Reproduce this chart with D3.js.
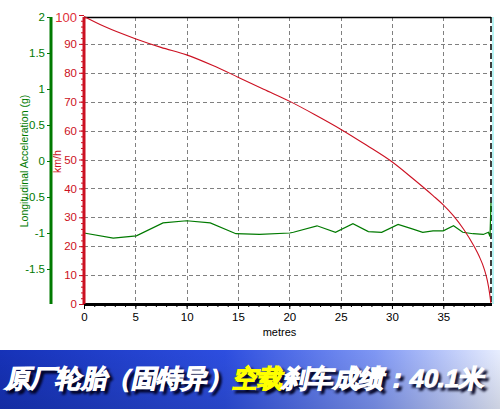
<!DOCTYPE html>
<html><head><meta charset="utf-8">
<script src="https://cdn.jsdelivr.net/npm/d3@7/dist/d3.min.js"></script>
<style>
html,body{margin:0;padding:0;background:#fff;overflow:hidden}
svg{display:block}
text{font-family:"Liberation Sans",Arial,sans-serif}
</style></head>
<body>
<script>
// ---- data ----
const speedData = [ // [metres, km/h]
  [0,99.5],[2,96],[5,91.8],[7.5,88.8],[10,86.2],[12.5,82.6],[15,78.5],[17.5,74.3],
  [20,70.2],[22.5,65.5],[25,60.5],[27.5,55],[30,49.2],[32,43.5],[34,37.5],[35,34.3],
  [36,30.5],[37,25.8],[38,20],[38.5,16.5],[39,12],[39.3,8],[39.5,4],[39.65,0]
];
const accelData = [ // [metres, g]
  [0,-1.0],[2.85,-1.07],[5.1,-1.04],[7.7,-0.86],[10,-0.83],[12.3,-0.86],[14.8,-1.01],
  [17.1,-1.02],[20.05,-1.0],[20.4,-0.99],[22.7,-0.90],[24.5,-0.99],[26.2,-0.87],
  [27.7,-0.98],[29.0,-0.99],[30.6,-0.88],[31.9,-0.94],[33.0,-0.99],[34.0,-0.97],
  [35.0,-0.97],[36.0,-0.90],[36.9,-0.99],[37.9,-1.01],[38.9,-1.02],[39.4,-0.99],
  [39.55,-1.05],[39.65,-0.58]
];
const xTicks = [0,5,10,15,20,25,30,35];
const speedTicks = [0,10,20,30,40,50,60,70,80,90,100];
const accelTicks = [-1.5,-1,-0.5,0,0.5,1,1.5,2];
const accelTitle = "Longitudinal Acceleration (g)";
const speedTitle = "km/h";
const xTitle = "metres";
const bannerParts = [["原厂轮胎（固特异）", "#ffffff"], ["空载", "#ffff00"], ["刹车成绩：40.1米", "#ffffff"]];

// ---- layout ----
const W = 500, H = 409;
const pL = 84, pR = 491, pT = 17, pB = 304;
const green = "#007a00", red = "#cc1122";
const fmt = d => String(d);

const svg = d3.select("body").append("svg").attr("width", W).attr("height", H);

const x = d3.scaleLinear().domain([0, 39.65]).range([pL, pR]);
const yS = d3.scaleLinear().domain([0, 100]).range([pB, 15]);
const yA = d3.scaleLinear().domain([-2, 2]).range([305, 17]);

// grid
const grid = svg.append("g").attr("stroke", "#808080").attr("stroke-dasharray", "4,3").attr("stroke-width", 1);
xTicks.filter(t => t > 0).forEach(t => {
  grid.append("line").attr("x1", Math.round(x(t)) + 0.5).attr("x2", Math.round(x(t)) + 0.5)
    .attr("y1", pT).attr("y2", pB);
});
speedTicks.filter(t => t > 0 && t < 100).forEach(t => {
  grid.append("line").attr("x1", pL).attr("x2", pR)
    .attr("y1", Math.round(yS(t)) + 0.5).attr("y2", Math.round(yS(t)) + 0.5);
});

// borders
svg.append("line").attr("x1", pL).attr("x2", pR).attr("y1", pT + 0.5).attr("y2", pT + 0.5)
  .attr("stroke", "#000").attr("stroke-width", 1.3);
svg.append("line").attr("x1", pR + 2).attr("x2", pR + 2).attr("y1", pT).attr("y2", pB)
  .attr("stroke", "#9ff0f0").attr("stroke-width", 1.5);
svg.append("line").attr("x1", pR).attr("x2", pR).attr("y1", pT).attr("y2", pB)
  .attr("stroke", "#000").attr("stroke-width", 1.5).attr("stroke-dasharray", "6,3");

// lines
svg.append("path").datum(accelData)
  .attr("d", d3.line().x(d => x(d[0])).y(d => yA(d[1])))
  .attr("fill", "none").attr("stroke", green).attr("stroke-width", 1.2);
svg.append("path").datum(speedData)
  .attr("d", d3.line().x(d => x(d[0])).y(d => yS(d[1])).curve(d3.curveMonotoneX))
  .attr("fill", "none").attr("stroke", red).attr("stroke-width", 1.1);

// x axis
const xAxis = svg.append("g").attr("transform", `translate(0,${pB})`)
  .call(d3.axisBottom(x).tickValues(xTicks).tickFormat(fmt).tickSize(5).tickSizeOuter(0).tickPadding(4));
xAxis.select(".domain").remove();
xAxis.selectAll("text").attr("font-size", 11.5).attr("fill", "#000").attr("font-family", "Liberation Sans");
const xMinor = svg.append("g").attr("transform", `translate(0,${pB})`)
  .call(d3.axisBottom(x).tickValues(d3.range(0, 40, 1)).tickSize(3).tickFormat(""));
xMinor.select(".domain").remove();
svg.append("line").attr("x1", pL).attr("x2", pR + 1).attr("y1", pB + 0.5).attr("y2", pB + 0.5)
  .attr("stroke", "#000").attr("stroke-width", 3);
svg.append("text").attr("x", (pL + pR) / 2 - 8).attr("y", 336).attr("text-anchor", "middle")
  .attr("font-size", 11).attr("fill", "#000").text(xTitle);

// speed axis (red)
const sAxis = svg.append("g").attr("transform", `translate(${pL},0)`)
  .call(d3.axisLeft(yS).tickValues(speedTicks).tickFormat(fmt).tickSize(5).tickSizeOuter(0).tickPadding(2));
sAxis.select(".domain").remove();
sAxis.selectAll("line").attr("stroke", red);
sAxis.selectAll("text").attr("fill", red).attr("font-size", 11.5).attr("font-family", "Liberation Sans");
sAxis.selectAll("text").filter(d => d === 100).attr("y", 2).attr("font-size", 13).attr("fill", "#e0303a");
const sMinor = svg.append("g").attr("transform", `translate(${pL},0)`)
  .call(d3.axisLeft(yS).tickValues(d3.range(0, 100, 2)).tickSize(3).tickFormat(""));
sMinor.select(".domain").remove();
sMinor.selectAll("line").attr("stroke", red);
svg.append("line").attr("x1", pL).attr("x2", pL).attr("y1", pT).attr("y2", pB)
  .attr("stroke", red).attr("stroke-width", 3);
svg.append("text").attr("transform", `translate(61,${(yS(50) + 2)}) rotate(-90)`).attr("text-anchor", "middle")
  .attr("font-size", 10.5).attr("fill", red).text(speedTitle);

// accel axis (green)
const aAxis = svg.append("g").attr("transform", `translate(51,0)`)
  .call(d3.axisLeft(yA).tickValues(accelTicks).tickFormat(fmt).tickSize(4).tickSizeOuter(0).tickPadding(2));
aAxis.select(".domain").remove();
aAxis.selectAll("line").attr("stroke", green);
aAxis.selectAll("text").attr("fill", green).attr("font-size", 11.5).attr("font-family", "Liberation Sans");
svg.append("line").attr("x1", 51).attr("x2", 51).attr("y1", 17).attr("y2", pB)
  .attr("stroke", green).attr("stroke-width", 3);
svg.append("text").attr("transform", `translate(28,${yA(0)}) rotate(-90)`).attr("text-anchor", "middle")
  .attr("font-size", 10.5).attr("fill", green).text(accelTitle);

// banner
const defs = svg.append("defs");
const grad = defs.append("linearGradient").attr("id", "bg").attr("x1", 0).attr("x2", 1).attr("y1", 0).attr("y2", 0);
grad.append("stop").attr("offset", "0").attr("stop-color", "#1632b8");
grad.append("stop").attr("offset", "0.45").attr("stop-color", "#2d4ee0");
grad.append("stop").attr("offset", "0.75").attr("stop-color", "#7f97f4");
grad.append("stop").attr("offset", "1").attr("stop-color", "#e8eeff");
const vgrad = defs.append("linearGradient").attr("id", "vg").attr("x1", 0).attr("x2", 0).attr("y1", 0).attr("y2", 1);
vgrad.append("stop").attr("offset", "0").attr("stop-color", "#000").attr("stop-opacity", 0);
vgrad.append("stop").attr("offset", "1").attr("stop-color", "#000").attr("stop-opacity", 0.12);
const blur = defs.append("filter").attr("id", "blur");
blur.append("feGaussianBlur").attr("stdDeviation", 1);
svg.append("rect").attr("x", 0).attr("y", 350).attr("width", W).attr("height", H - 350).attr("fill", "url(#bg)");
svg.append("rect").attr("x", 0).attr("y", 350).attr("width", W).attr("height", H - 350).attr("fill", "url(#vg)");

const bannerFont = '"Noto Sans CJK SC", sans-serif';
function bannerText(dx, dy, colorFn, shadow) {
  const t = svg.append("text").attr("x", 5 + dx).attr("y", 387 + dy)
    .attr("font-family", bannerFont).attr("font-weight", 900).attr("font-size", 25)
    .attr("textLength", 478).attr("lengthAdjust", "spacingAndGlyphs")
    .attr("stroke-width", 1.1).attr("paint-order", "stroke")
    .attr("transform", `translate(${(387 + dy) * Math.tan(12 * Math.PI / 180)},0) skewX(-12)`);
  if (shadow) t.attr("filter", "url(#blur)");
  bannerParts.forEach(p => t.append("tspan").attr("fill", colorFn(p[1])).attr("stroke", colorFn(p[1])).text(p[0]));
  return t;
}
bannerText(3, 3, () => "rgba(0,0,30,0.85)", true);
bannerText(0, 0, c => c, false);
</script>
</body></html>
